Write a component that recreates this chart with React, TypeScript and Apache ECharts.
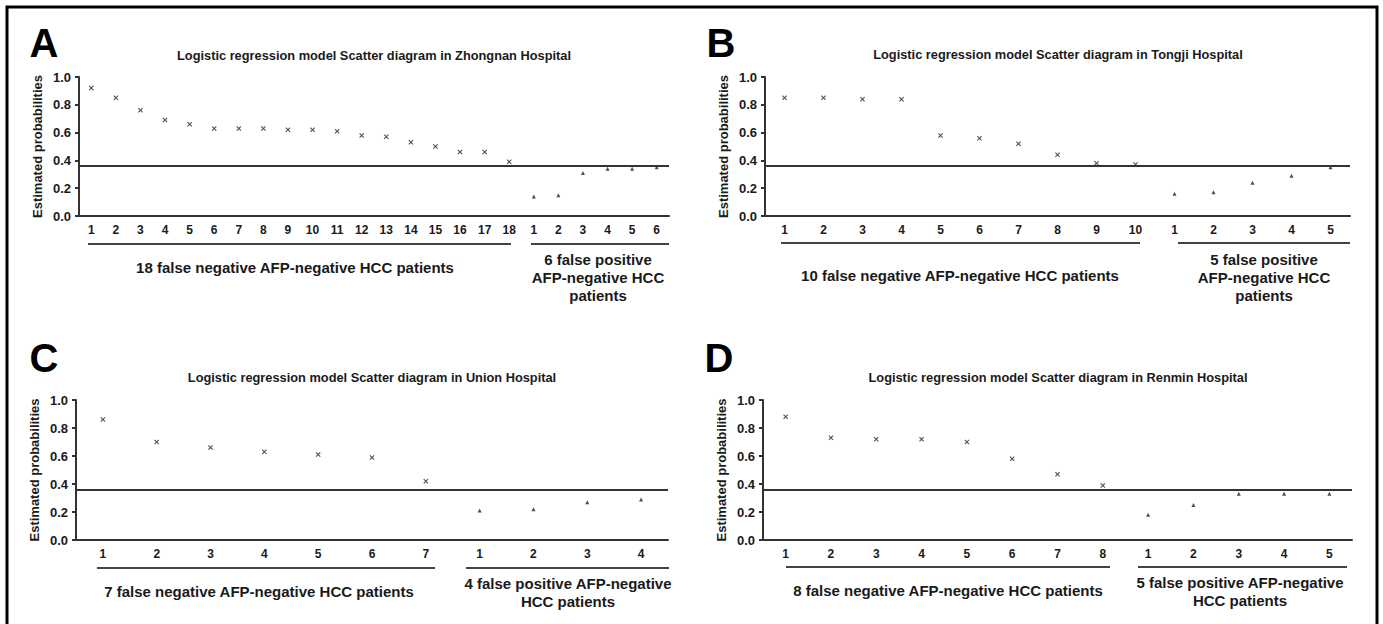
import React, { useEffect, useRef } from "react";
import * as echarts from "echarts";

// ---- data ----
const catsA = ["1","2","3","4","5","6","7","8","9","10","11","12","13","14","15","16","17","18","1","2","3","4","5","6"];
const negA = [0.92,0.85,0.76,0.69,0.66,0.63,0.63,0.63,0.62,0.62,0.61,0.58,0.57,0.53,0.50,0.46,0.46,0.39];
const posA = [0.14,0.15,0.31,0.34,0.34,0.35];

const catsB = ["1","2","3","4","5","6","7","8","9","10","1","2","3","4","5"];
const negB = [0.85,0.85,0.84,0.84,0.58,0.56,0.52,0.44,0.38,0.37];
const posB = [0.16,0.17,0.24,0.29,0.35];

const catsC = ["1","2","3","4","5","6","7","1","2","3","4"];
const negC = [0.86,0.70,0.66,0.63,0.61,0.59,0.42];
const posC = [0.21,0.22,0.27,0.29];

const catsD = ["1","2","3","4","5","6","7","8","1","2","3","4","5"];
const negD = [0.88,0.73,0.72,0.72,0.70,0.58,0.47,0.39];
const posD = [0.18,0.25,0.33,0.33,0.33];

const cutoff = 0.36;
const yTicks = [0, 0.2, 0.4, 0.6, 0.8, 1.0];

const titles = [
  "Logistic regression model Scatter diagram in Zhongnan Hospital",
  "Logistic regression model Scatter diagram in Tongji Hospital",
  "Logistic regression model Scatter diagram in Union Hospital",
  "Logistic regression model Scatter diagram in Renmin Hospital",
];
const letters = ["A", "B", "C", "D"];
const negLabels = [
  "18 false negative AFP-negative HCC patients",
  "10 false negative AFP-negative HCC patients",
  "7 false negative AFP-negative HCC patients",
  "8 false negative AFP-negative HCC patients",
];
const posLabels = [
  "6 false positive\nAFP-negative HCC\npatients",
  "5 false positive\nAFP-negative HCC\npatients",
  "4 false positive AFP-negative\nHCC patients",
  "5 false positive AFP-negative\nHCC patients",
];

const FONT = "'Liberation Sans', Arial, Helvetica, sans-serif";
const INK = "#1a1a1a";

// layout (pixels)
const grids = [
  { left: 79, top: 77, width: 590, height: 139 },
  { left: 765, top: 77, width: 585, height: 139 },
  { left: 76, top: 400, width: 592, height: 140 },
  { left: 763, top: 400, width: 589, height: 140 },
];
const letterPos = [[44, 43], [721, 43], [44, 358], [719, 358]];
const titlePos = [[374, 55], [1058, 54], [372, 377], [1058, 377]];
const underlines = [
  { y: 244, segs: [[88, 511], [531, 669]] },
  { y: 243, segs: [[781, 1140], [1178, 1350]] },
  { y: 568, segs: [[97, 435], [466, 669]] },
  { y: 567, segs: [[786, 1110], [1138, 1347]] },
];
const negLabelPos = [[295, 267], [960, 275], [259, 591], [948, 590]];
const posLabelPos = [[598, 277], [1264, 277], [568, 592], [1240, 591]];

const crossPath =
  "path://M0,1.5L1.5,0L5,3.5L8.5,0L10,1.5L6.5,5L10,8.5L8.5,10L5,6.5L1.5,10L0,8.5L3.5,5Z";

export default function App() {
  const ref = useRef<HTMLDivElement>(null);
  useEffect(() => {
    if (!ref.current) return;
    const chart = echarts.init(ref.current, null, { renderer: "svg" });
    const panels = [
      { cats: catsA, neg: negA, pos: posA },
      { cats: catsB, neg: negB, pos: posB },
      { cats: catsC, neg: negC, pos: posC },
      { cats: catsD, neg: negD, pos: posD },
    ];
    const xAxis: any[] = [];
    const yAxis: any[] = [];
    const series: any[] = [];
    panels.forEach((p, i) => {
      xAxis.push({
        type: "category",
        gridIndex: i,
        data: p.cats,
        boundaryGap: true,
        axisLine: { lineStyle: { color: "#333", width: 2 } },
        axisTick: { show: false },
        axisLabel: {
          color: INK,
          fontWeight: "bold",
          fontSize: 12,
          fontFamily: FONT,
          margin: 8,
          interval: 0,
        },
        splitLine: { show: false },
      });
      yAxis.push({
        type: "value",
        gridIndex: i,
        min: 0,
        max: 1,
        interval: 0.2,
        name: "Estimated probabilities",
        nameLocation: "middle",
        nameGap: 35,
        nameTextStyle: { color: INK, fontWeight: "bold", fontSize: 13, fontFamily: FONT },
        axisLine: { show: true, lineStyle: { color: "#333", width: 2 } },
        axisTick: { show: true, length: 4, lineStyle: { color: "#333", width: 2 } },
        axisLabel: {
          color: INK,
          fontWeight: "bold",
          fontSize: 13,
          fontFamily: FONT,
          margin: 8,
          formatter: (v: number) => (yTicks.includes(Math.round(v * 10) / 10) ? v.toFixed(1) : ""),
        },
        splitLine: { show: false },
      });
      series.push({
        type: "scatter",
        xAxisIndex: i,
        yAxisIndex: i,
        symbol: crossPath,
        symbolSize: 5,
        itemStyle: { color: "#222" },
        data: p.neg.map((v, k) => [k, v]),
        markLine: {
          silent: true,
          symbol: ["none", "none"],
          label: { show: false },
          lineStyle: { color: "#333", width: 2, type: "solid" },
          data: [{ yAxis: cutoff }],
        },
      });
      series.push({
        type: "scatter",
        xAxisIndex: i,
        yAxisIndex: i,
        symbol: "triangle",
        symbolSize: 4,
        itemStyle: { color: "#222" },
        data: p.pos.map((v, k) => [p.neg.length + k, v]),
      });
    });

    const graphic: any[] = [
      {
        type: "rect",
        shape: { x: 7, y: 7, width: 1370, height: 700 },
        style: { fill: "none", stroke: "#000", lineWidth: 3 },
        silent: true,
      },
    ];
    for (let i = 0; i < 4; i++) {
      graphic.push({
        type: "text",
        x: letterPos[i][0],
        y: letterPos[i][1],
        style: {
          text: letters[i],
          fontSize: 40,
          fontWeight: "bold",
          fontFamily: FONT,
          fill: "#000",
          align: "center",
          verticalAlign: "middle",
        },
      });
      graphic.push({
        type: "text",
        x: titlePos[i][0],
        y: titlePos[i][1],
        style: {
          text: titles[i],
          fontSize: 12.8,
          fontWeight: "bold",
          fontFamily: FONT,
          fill: INK,
          align: "center",
          verticalAlign: "middle",
        },
      });
      underlines[i].segs.forEach((s) => {
        graphic.push({
          type: "line",
          shape: { x1: s[0], y1: underlines[i].y, x2: s[1], y2: underlines[i].y },
          style: { stroke: "#444", lineWidth: 2 },
        });
      });
      graphic.push({
        type: "text",
        x: negLabelPos[i][0],
        y: negLabelPos[i][1],
        style: {
          text: negLabels[i],
          fontSize: 15,
          fontWeight: "bold",
          fontFamily: FONT,
          fill: INK,
          align: "center",
          verticalAlign: "middle",
        },
      });
      graphic.push({
        type: "text",
        x: posLabelPos[i][0],
        y: posLabelPos[i][1],
        style: {
          text: posLabels[i],
          fontSize: 15,
          lineHeight: 18,
          fontWeight: "bold",
          fontFamily: FONT,
          fill: INK,
          align: "center",
          verticalAlign: "middle",
        },
      });
    }

    chart.setOption({
      animation: false,
      backgroundColor: "#fff",
      grid: grids.map((g) => ({ ...g, containLabel: false })),
      xAxis,
      yAxis,
      series,
      graphic,
    });
    return () => chart.dispose();
  }, []);
  return (
    <div
      ref={ref}
      style={{ position: "fixed", left: 0, top: 0, width: 1383, height: 624 }}
    />
  );
}
